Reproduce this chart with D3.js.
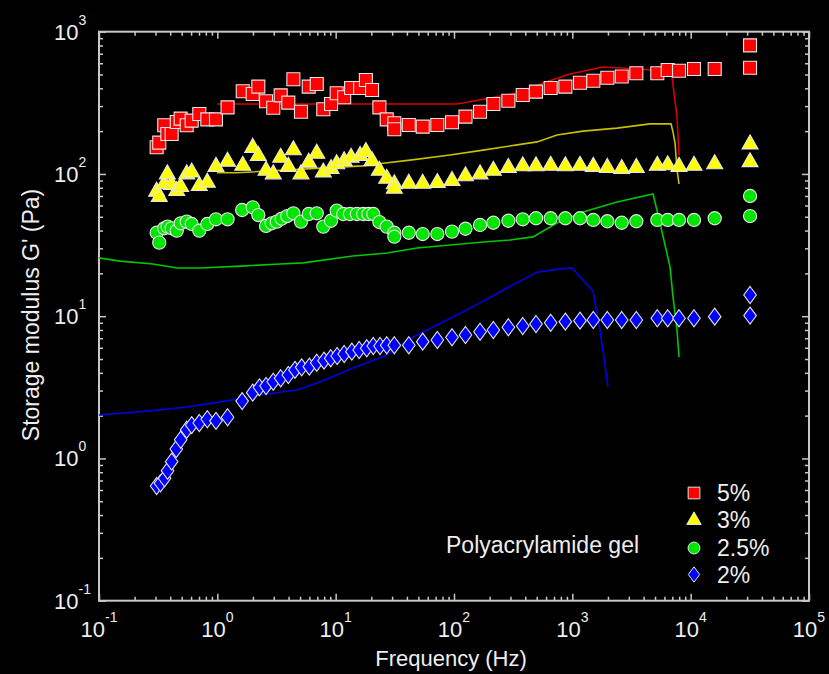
<!DOCTYPE html>
<html>
<head>
<meta charset="utf-8">
<script src="https://cdn.jsdelivr.net/npm/d3@7"></script>
<style>
  html, body { margin: 0; padding: 0; background: #000; }
  svg { display: block; font-family: "Liberation Sans", Arial, sans-serif; }
</style>
</head>
<body>
<div id="chart"></div>
<script>
// frequency grid shared by the 5% and 3% samples (Hz)
var freqA = [0.307, 0.323, 0.356, 0.378, 0.411, 0.454, 0.490, 0.551, 0.607, 0.704, 0.823, 0.974,
    1.22, 1.64, 1.99, 2.22, 2.58, 2.97, 3.43, 3.98, 4.39, 5.09, 5.92, 6.92, 7.86, 9.14, 10.2, 11.8,
    13.5, 16.1, 18.0, 20.3, 23.4, 27.0, 31.3, 31.3, 41.5, 54.4, 72.3, 96.2, 125, 166, 215, 288, 381,
    493, 656, 873, 1161, 1504, 1976, 2614, 3474, 5224, 6397, 7970, 10670, 15960, 31760, 31760];

var g5 = [154, 166, 220, 191, 191, 232, 245, 220, 237, 264, 242, 242,
    294, 381, 365, 411, 324, 292, 357, 317, 463, 274, 411, 429, 285, 310, 369, 346,
    402, 402, 458, 389, 294, 242, 227, 206, 221, 215, 221, 231, 253, 274, 310, 327, 359,
    379, 402, 411, 438, 452, 474, 484, 510, 510, 538, 532, 547, 547, 558, 802];

var g3 = [76.3, 70.0, 86.0, 101, 85.0, 77.1, 82.3, 101, 104, 83.6, 88.2, 114,
    124, 116, 155, 136, 107, 101, 132, 114, 149, 101, 122, 141, 104, 110, 119, 125,
    132, 136, 145, 125, 107, 94.0, 86.0, 79.9, 86.8, 86.8, 87.8, 90.7, 97.8, 101, 107, 112, 115,
    115, 116, 115, 116, 114, 112, 110, 112, 116, 117, 114, 116, 119, 123, 164];

var freq25 = [0.307, 0.323, 0.356, 0.380, 0.411, 0.454, 0.490, 0.551, 0.607, 0.704, 0.823, 0.974,
    1.22, 1.62, 1.99, 2.22, 2.58, 2.88, 3.18, 3.50, 3.90, 4.39, 5.09, 5.92, 6.92, 7.86, 9.14, 10.2,
    11.6, 13.2, 15.1, 17.1, 18.9, 20.8, 23.4, 27.0, 31.3, 31.3, 41.5, 54.4, 72.3, 96.2, 125, 166,
    215, 288, 381, 493, 656, 873, 1161, 1504, 1976, 2614, 3474, 5224, 6397, 7970, 10670, 15960,
    31760, 31760];

var g25 = [38.6, 32.9, 41.5, 42.6, 41.5, 39.9, 45.0, 46.2, 44.5, 39.9, 44.5, 48.0,
    48.0, 55.8, 58.3, 51.4, 43.1, 45.0, 46.2, 48.5, 50.6, 52.9, 46.2, 52.3, 52.9, 42.6, 46.9, 55.2,
    52.3, 52.3, 52.3, 52.3, 52.3, 52.3, 45.9, 42.6, 38.6, 36.2, 38.6, 37.8, 37.8, 39.3, 41.2, 43.8,
    45.4, 46.9, 48.0, 48.8, 48.8, 48.8, 48.8, 47.5, 46.5, 45.4, 46.5, 47.5, 47.5, 47.5, 47.5, 48.8,
    50.6, 70.0];

var freq2 = [0.307, 0.331, 0.358, 0.380, 0.411, 0.450, 0.490, 0.551, 0.607, 0.704, 0.823, 0.974,
    1.22, 1.62, 1.99, 2.27, 2.58, 2.97, 3.43, 3.98, 4.53, 5.16, 5.99, 6.92, 7.97, 9.08, 10.3, 11.8,
    13.7, 15.8, 18.3, 20.8, 23.7, 27.0, 31.3, 41.5, 54.4, 72.3, 96.2, 125, 166, 215, 288, 381,
    493, 656, 873, 1161, 1504, 1976, 2614, 3474, 5224, 6397, 7970, 10670, 15960, 31760, 31760];

var g2 = [0.640, 0.669, 0.725, 0.820, 0.949, 1.165, 1.354, 1.592, 1.713, 1.775, 1.885, 1.839,
    1.947, 2.53, 2.90, 3.16, 3.23, 3.46, 3.66, 3.86, 4.19, 4.37, 4.42, 4.71, 4.87, 5.06, 5.25, 5.42,
    5.63, 5.79, 5.95, 6.17, 6.17, 6.25, 6.25, 6.25, 6.62, 6.80, 7.11, 7.38, 7.78, 8.00, 8.36, 8.53,
    8.81, 9.00, 9.15, 9.30, 9.40, 9.40, 9.40, 9.40, 9.67, 9.67, 9.67, 9.67, 9.92, 10.1, 14.1];

// solid reference curves
var line5F = [0.994, 106, 119, 201, 341, 565, 955, 1817, 3733, 4535, 6955, 6955, 7670, 7970];
var line5G = [310, 310, 315, 342, 371, 436, 504, 565, 547, 538, 521, 480, 251, 136];

var line3F = [0.994, 1.466, 17.0, 25.1, 42.5, 92.5, 176, 341, 503, 742, 1231, 2386, 4535, 6823, 7096, 7378, 7670, 7970];
var line3G = [102, 102, 114, 119, 125, 136, 147, 160, 168, 188, 200, 210, 225, 225, 197, 165, 107, 85.0];

var line25F = [0.1, 0.150, 0.286, 0.456, 0.714, 1.555, 3.38, 5.30, 14.0, 27.2, 48.7, 92.5, 176, 297, 465, 742, 1231, 2386, 4808, 5508, 6693, 7096, 7670, 7970];
var line25G = [25.7, 24.4, 23.3, 21.8, 21.8, 22.5, 23.3, 23.7, 26.5, 27.8, 30.2, 31.7, 33.2, 34.3, 36.1, 45.2, 54.0, 63.5, 72.3, 45.2, 22.2, 13.6, 8.00, 5.17];

var line2F = [0.1, 0.270, 0.554, 0.919, 1.466, 2.29, 4.71, 7.37, 14.0, 27.2, 45.0, 87.3, 166, 315, 503, 787, 994, 1495, 1713, 2002];
var line2G = [2.02, 2.16, 2.30, 2.45, 2.62, 2.79, 3.03, 3.45, 4.32, 5.34, 7.14, 9.40, 12.4, 16.6, 20.4, 21.5, 21.8, 15.0, 8.00, 3.18];

var legendLabels = ["5%", "3%", "2.5%", "2%"];
var xExp = [-1, 0, 1, 2, 3, 4, 5];
var yExp = [-1, 0, 1, 2, 3];

function drawChart() {
    var width = 829, height = 674;
    var pLeft = 99, pRight = 809, pTop = 31.7, pBottom = 600.7;

    var svg = d3.select("#chart").append("svg")
        .attr("width", width)
        .attr("height", height);

    svg.append("rect").attr("width", width).attr("height", height).attr("fill", "#000");

    var x = d3.scaleLog().domain([0.1, 1e5]).range([pLeft, pRight]);
    var y = d3.scaleLog().domain([0.1, 1e3]).range([pBottom, pTop]);

    // major / minor tick values
    function minors(exps) {
        var out = [];
        for (var k = exps[0]; k < exps[exps.length - 1]; k++) {
            for (var m = 2; m < 10; m++) out.push(m * Math.pow(10, k));
        }
        return out;
    }
    var xMajor = xExp.map(function (e) { return Math.pow(10, e); });
    var yMajor = yExp.map(function (e) { return Math.pow(10, e); });
    var xMinor = minors(xExp);
    var yMinor = minors(yExp);

    var axisColor = "#c8c8c8";

    function drawAxis(axis, tx, ty) {
        var g = svg.append("g").attr("transform", "translate(" + tx + "," + ty + ")").call(axis);
        g.select(".domain").remove();
        g.selectAll("line").attr("stroke", axisColor).attr("stroke-width", 1.5);
        g.selectAll("text").remove();
    }

    drawAxis(d3.axisBottom(x).tickValues(xMinor).tickSize(-4).tickFormat(""), 0, pBottom);
    drawAxis(d3.axisBottom(x).tickValues(xMajor).tickSize(-7).tickFormat(""), 0, pBottom);
    drawAxis(d3.axisTop(x).tickValues(xMinor).tickSize(-4).tickFormat(""), 0, pTop);
    drawAxis(d3.axisTop(x).tickValues(xMajor).tickSize(-7).tickFormat(""), 0, pTop);
    drawAxis(d3.axisLeft(y).tickValues(yMinor).tickSize(-4).tickFormat(""), pLeft, 0);
    drawAxis(d3.axisLeft(y).tickValues(yMajor).tickSize(-7).tickFormat(""), pLeft, 0);
    drawAxis(d3.axisRight(y).tickValues(yMinor).tickSize(-4).tickFormat(""), pRight, 0);
    drawAxis(d3.axisRight(y).tickValues(yMajor).tickSize(-7).tickFormat(""), pRight, 0);

    // frame
    svg.append("rect")
        .attr("x", pLeft).attr("y", pTop)
        .attr("width", pRight - pLeft).attr("height", pBottom - pTop)
        .attr("fill", "none")
        .attr("stroke", axisColor)
        .attr("stroke-width", 2);

    var textColor = "#eeeeee";

    // x tick labels 10^n
    var xl = svg.selectAll(".xlab").data(xExp).enter().append("text")
        .attr("class", "xlab")
        .attr("x", function (d) { return x(Math.pow(10, d)); })
        .attr("y", 637)
        .attr("text-anchor", "middle")
        .attr("fill", textColor)
        .style("font-size", "22px");
    xl.append("tspan").text("10");
    xl.append("tspan").attr("dy", -15).style("font-size", "14px").text(function (d) { return d; });

    // y tick labels 10^n
    var yl = svg.selectAll(".ylab").data(yExp).enter().append("text")
        .attr("class", "ylab")
        .attr("x", 54)
        .attr("y", function (d) { return y(Math.pow(10, d)) + 8; })
        .attr("fill", textColor)
        .style("font-size", "22px");
    yl.append("tspan").text("10");
    yl.append("tspan").attr("dy", -15).style("font-size", "14px").text(function (d) { return d; });

    // axis titles
    svg.append("text")
        .attr("x", 451).attr("y", 666)
        .attr("text-anchor", "middle")
        .attr("fill", textColor)
        .style("font-size", "22px")
        .text("Frequency (Hz)");

    svg.append("text")
        .attr("transform", "translate(39,315) rotate(-90)")
        .attr("text-anchor", "middle")
        .attr("fill", textColor)
        .style("font-size", "23px")
        .text("Storage modulus G' (Pa)");

    // reference curves
    var line = d3.line()
        .x(function (d) { return x(d[0]); })
        .y(function (d) { return y(d[1]); });

    function zip(a, b) { return a.map(function (v, i) { return [v, b[i]]; }); }

    var curves = [
        { pts: zip(line25F, line25G), color: "#00c800" },
        { pts: zip(line2F, line2G), color: "#0000e6" },
        { pts: zip(line3F, line3G), color: "#c8c000" },
        { pts: zip(line5F, line5G), color: "#d80000" }
    ];

    svg.append("g").selectAll("path")
        .data(curves)
        .enter()
        .append("path")
        .attr("d", function (d) { return line(d.pts); })
        .attr("fill", "none")
        .attr("stroke", function (d) { return d.color; })
        .attr("stroke-width", 1.6);

    // marker shapes
    var shapes = {
        square: "M-6.5,-6.5H6.5V6.5H-6.5Z",
        triangle: "M0,-8.5L8,5.5H-8Z",
        circle: "M6.6,0A6.6,6.6 0 1,1 -6.6,0A6.6,6.6 0 1,1 6.6,0Z",
        diamond: "M0,-8.5L6.3,0L0,8.5L-6.3,0Z"
    };

    var series = [
        { f: freq25, g: g25, shape: "circle", color: "#00e600" },
        { f: freqA, g: g3, shape: "triangle", color: "#ffff00" },
        { f: freqA, g: g5, shape: "square", color: "#ff0000" },
        { f: freq2, g: g2, shape: "diamond", color: "#0000ff" }
    ];

    series.forEach(function (s) {
        svg.append("g")
            .selectAll("path")
            .data(zip(s.f, s.g))
            .enter()
            .append("path")
            .attr("transform", function (d) { return "translate(" + x(d[0]) + "," + y(d[1]) + ")"; })
            .attr("d", shapes[s.shape])
            .attr("fill", s.color)
            .attr("stroke", "#e6e6e6")
            .attr("stroke-width", 1.1);
    });

    // legend: 5%, 3%, 2.5%, 2%
    var legendY = [493, 519.5, 548, 574.5];
    var legendSeries = [series[2], series[1], series[0], series[3]];

    var lg = svg.append("g").selectAll("g")
        .data(legendSeries)
        .enter()
        .append("g")
        .attr("transform", function (d, i) { return "translate(694," + legendY[i] + ")"; });

    lg.append("path")
        .attr("d", function (d) { return shapes[d.shape]; })
        .attr("transform", "scale(0.9)")
        .attr("fill", function (d) { return d.color; })
        .attr("stroke", "#e6e6e6")
        .attr("stroke-width", 1.1);

    lg.append("text")
        .attr("x", 23)
        .attr("y", 8)
        .attr("fill", textColor)
        .style("font-size", "23px")
        .text(function (d, i) { return legendLabels[i]; });

    svg.append("text")
        .attr("x", 446).attr("y", 553)
        .attr("fill", textColor)
        .style("font-size", "23px")
        .text("Polyacrylamide gel");
}

drawChart();
</script>
</body>
</html>
